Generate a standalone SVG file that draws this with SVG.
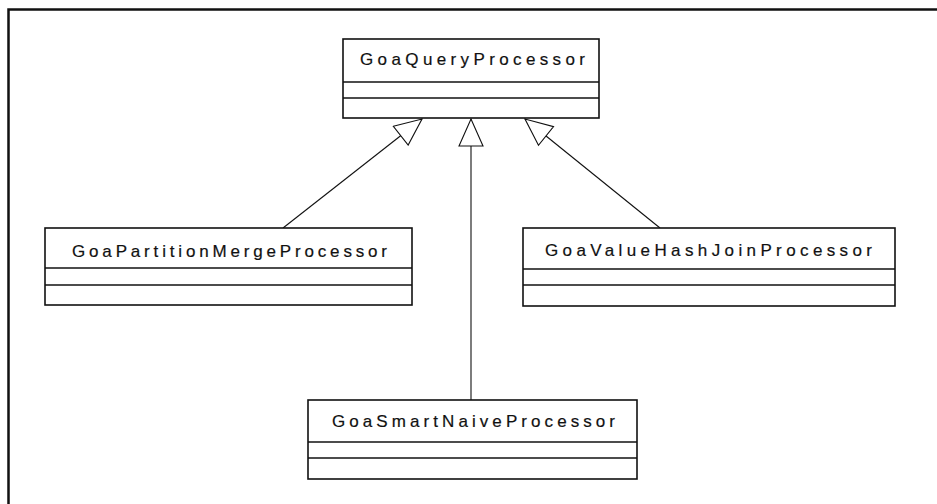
<svg xmlns="http://www.w3.org/2000/svg" width="937" height="504" viewBox="0 0 937 504">
  <style>
    .frame { fill: none; stroke: #111; stroke-width: 2.5; }
    .box { fill: #fff; stroke: #111; stroke-width: 1.6; }
    .div { stroke: #111; stroke-width: 1.6; }
    .name { font-family: "Liberation Sans", Arial, sans-serif; font-size: 17px; fill: #111; stroke: #111; stroke-width: 0.2; }
    .gen { fill: none; stroke: #111; stroke-width: 1.1; marker-end: url(#hollow); }
  </style>
  <defs>
    <!-- hollow triangle for generalization -->
    <marker id="hollow" markerUnits="userSpaceOnUse" viewBox="-1 -1 29 26" markerWidth="29" markerHeight="26" refX="27" refY="12" orient="auto">
      <path d="M0,0 L27,12 L0,24 Z" fill="#fff" stroke="#111" stroke-width="1.1"/>
    </marker>
  </defs>

  <rect width="937" height="504" fill="#fff"/>

  <!-- sheet border (top and left edges) -->
  <polyline class="frame" points="8.5,504 8.5,9.5 937,9.5"/>

  <g id="connectors">
    <line class="gen" x1="283" y1="228" x2="422" y2="119"/>
    <line class="gen" x1="471" y1="400" x2="471" y2="119"/>
    <line class="gen" x1="660" y1="228" x2="525" y2="119"/>
  </g>

  <g id="GoaQueryProcessor">
    <rect class="box" x="343" y="39" width="256" height="79"/>
    <line class="div" x1="343" y1="82" x2="599" y2="82"/>
    <line class="div" x1="343" y1="98" x2="599" y2="98"/>
    <text class="name" x="360" y="65" textLength="225" lengthAdjust="spacing">GoaQueryProcessor</text>
  </g>

  <g id="GoaPartitionMergeProcessor">
    <rect class="box" x="45" y="228" width="367" height="77"/>
    <line class="div" x1="45" y1="268" x2="412" y2="268"/>
    <line class="div" x1="45" y1="285" x2="412" y2="285"/>
    <text class="name" x="72" y="257" textLength="315" lengthAdjust="spacing">GoaPartitionMergeProcessor</text>
  </g>

  <g id="GoaValueHashJoinProcessor">
    <rect class="box" x="523" y="228" width="372" height="78"/>
    <line class="div" x1="523" y1="269" x2="895" y2="269"/>
    <line class="div" x1="523" y1="285" x2="895" y2="285"/>
    <text class="name" x="545" y="256" textLength="327" lengthAdjust="spacing">GoaValueHashJoinProcessor</text>
  </g>

  <g id="GoaSmartNaiveProcessor">
    <rect class="box" x="308" y="400" width="329" height="79"/>
    <line class="div" x1="308" y1="442" x2="637" y2="442"/>
    <line class="div" x1="308" y1="458" x2="637" y2="458"/>
    <text class="name" x="332" y="427" textLength="283" lengthAdjust="spacing">GoaSmartNaiveProcessor</text>
  </g>
</svg>
